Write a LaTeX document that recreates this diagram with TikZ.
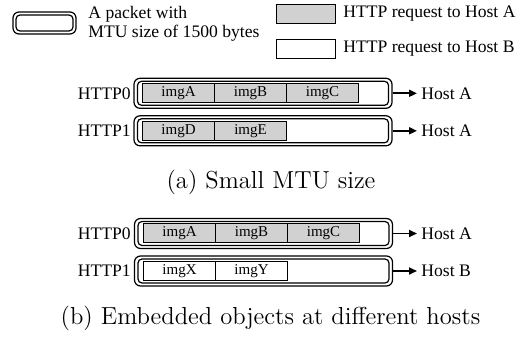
\documentclass[tikz,border=0pt]{standalone}
\usepackage{fontspec}
\newfontfamily\timesfont{Liberation Serif}
\usetikzlibrary{arrows.meta}
\definecolor{reqA}{gray}{0.82}

\tikzset{
  pktouter/.style={draw, line width=0.6pt, rounded corners=3pt, inner sep=0pt,
    minimum width=129pt, minimum height=15pt},
  pktinner/.style={draw, line width=0.6pt, rounded corners=2pt, inner sep=0pt,
    minimum width=125.5pt, minimum height=12pt},
  cellbox/.style={draw, line width=0.5pt, inner sep=0pt, minimum width=36pt,
    minimum height=9.5pt, font=\timesfont\fontsize{7.5}{8}\selectfont},
  cellA/.style={cellbox, fill=reqA},
  cellB/.style={cellbox, fill=white},
  rowlabel/.style={anchor=east, inner sep=0pt, font=\timesfont\fontsize{8.8}{9.3}\selectfont},
  hostlabel/.style={anchor=west, inner sep=2pt, font=\timesfont\fontsize{8.8}{9.3}\selectfont},
  legtext/.style={anchor=west, inner sep=0pt, align=left, font=\timesfont\fontsize{8.8}{9.3}\selectfont},
  tohost/.style={line width=0.9pt, -{Triangle[length=4pt,width=3.5pt]}},
  caption/.style={inner sep=0pt, font=\fontsize{12.3}{14}\selectfont}
}

\begin{document}
\begin{tikzpicture}[x=0.5pt, y=-0.5pt]
\useasboundingbox (0,0) rectangle (525,337);

% ---- legend ----
\node[pktouter, minimum width=31.5pt, minimum height=11pt] (legpkt) at (44.5,23) {};
\node[pktinner, minimum width=28.5pt, minimum height=8pt] (legpktin) at (44.5,23) {};
\node[legtext] (legpkttxt) at (88,24) {A packet with\\MTU size of 1500 bytes};

\node[cellA, minimum width=29.5pt] (legA) at (305.5,13.5) {};
\node[legtext] (legAtxt) at (343,13.5) {HTTP request to Host A};
\node[cellB, minimum width=29.5pt] (legB) at (305.5,48.5) {};
\node[legtext] (legBtxt) at (343,48.5) {HTTP request to Host B};

% ---- (a) small MTU size ----
\node[pktouter] (a0) at (263,93.3) {};
\node[pktinner] (a0in) at (263,93.3) {};
\node[cellA] (a0c1) at (178.5,93) {imgA};
\node[cellA] (a0c2) at (250.5,93) {imgB};
\node[cellA] (a0c3) at (322.5,93) {imgC};
\node[rowlabel] (a0lbl) at (131,93.3) {HTTP0};
\node[hostlabel] (a0host) at (417,93.3) {Host A};
\draw[tohost] (a0.east) -- (a0host.west);

\node[pktouter] (a1) at (263,130.8) {};
\node[pktinner] (a1in) at (263,130.8) {};
\node[cellA] (a1c1) at (178.5,131) {imgD};
\node[cellA] (a1c2) at (250.5,131) {imgE};
\node[rowlabel] (a1lbl) at (131,130.8) {HTTP1};
\node[hostlabel] (a1host) at (417,130.8) {Host A};
\draw[tohost] (a1.east) -- (a1host.west);

\node[caption] (capa) at (271,182) {(a) Small MTU size};

% ---- (b) embedded objects at different hosts ----
\node[pktouter] (b0) at (263.5,233.5) {};
\node[pktinner] (b0in) at (263.5,233.5) {};
\node[cellA] (b0c1) at (179.5,233.3) {imgA};
\node[cellA] (b0c2) at (251.5,233.3) {imgB};
\node[cellA] (b0c3) at (323.5,233.3) {imgC};
\node[rowlabel] (b0lbl) at (131,233.5) {HTTP0};
\node[hostlabel] (b0host) at (417,233.5) {Host A};
\draw[tohost] (b0.east) -- (b0host.west);

\node[pktouter] (b1) at (263.5,271) {};
\node[pktinner] (b1in) at (263.5,271) {};
\node[cellB] (b1c1) at (179.5,271) {imgX};
\node[cellB] (b1c2) at (251.5,271) {imgY};
\node[rowlabel] (b1lbl) at (131,271) {HTTP1};
\node[hostlabel] (b1host) at (417,271) {Host B};
\draw[tohost] (b1.east) -- (b1host.west);

\node[caption] (capb) at (270.5,318) {(b) Embedded objects at different hosts};
\end{tikzpicture}
\end{document}
